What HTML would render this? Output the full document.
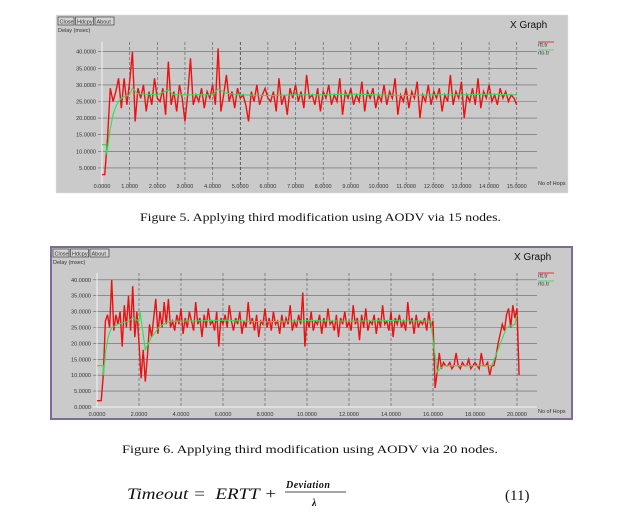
<!DOCTYPE html>
<html><head><meta charset="utf-8"><style>
html,body{margin:0;padding:0;background:#fff;width:627px;height:519px;overflow:hidden}
svg{display:block}
.t{font-family:"Liberation Sans",sans-serif;font-size:5.5px;fill:#333}
.cap{font-family:"Liberation Serif",serif;font-size:12px;fill:#111}
.btn{fill:#d4d4d4;stroke:#444;stroke-width:0.7}
</style></head><body>
<svg id="page" width="627" height="519" viewBox="0 0 627 519">
<g id="g1"></g>
<g id="g2"></g>
<text class="cap" x="140" y="221" textLength="361" lengthAdjust="spacingAndGlyphs">Figure  5.  Applying third modification using AODV via 15 nodes.</text>
<text class="cap" x="122" y="453" textLength="376" lengthAdjust="spacingAndGlyphs">Figure 6.  Applying third modification using AODV via 20 nodes.</text>
<g font-family="Liberation Serif, serif" fill="#111">
<text x="127" y="499" font-size="16" font-style="italic" textLength="150" lengthAdjust="spacingAndGlyphs">Timeout = &#160;ERTT +</text>
<text x="286" y="488" font-size="10" font-style="italic" font-weight="bold" letter-spacing="0.5">Deviation</text>
<line x1="285" y1="492" x2="346" y2="492" stroke="#111" stroke-width="0.8"/>
<text x="312" y="506" font-size="10" font-style="italic" font-weight="bold">λ</text>
<text x="505" y="500" font-size="15">(11)</text>
</g>
</svg>
<script>
// ---- Chart 1 data (15 nodes) ----
const rtt1 = [3,3,14,29,25,28,32,23,32,24,31,40,19,29,26,30,22,28,24,32,26,
25,29,21,37,24,28,22,30,26,19,27,38,24,27,25,29,23,28,26,30,
24,41,22,27,33,25,28,23,29,26,27,24,19,28,25,30,24,27,29,26,
25,28,22,32,24,27,21,29,26,30,25,28,23,33,26,27,24,29,22,28,
26,30,24,27,25,32,21,28,26,29,24,27,25,31,22,28,26,29,23,27,
25,30,24,28,26,32,21,27,25,29,23,28,26,31,20,27,25,30,24,28,
26,29,22,27,25,33,24,28,26,31,20,27,25,29,24,32,23,28,26,30,
25,27,24,29,26,28,25,27,26,24];
const rto1X = [0,0.15,0.17,0.3,0.4,0.5,0.6,0.7,0.8,1.0,1.1,1.3,2.0,2.4,2.6,3.0,4.0,4.2,4.5,5.0,6,7,8,9,10,11,12,13,14,15];
const rto1Y = [12,12,9,17,21,23.5,25,26,26.5,27,29,27.3,27,28.5,27,27,27,28.8,27.5,27,26.8,27,27,27.2,27,26.8,27,27,27.2,27];
const xTicks1 = ["0.0000","1.0000","2.0000","3.0000","4.0000","5.0000","6.0000","7.0000","8.0000","9.0000","10.0000","11.0000","12.0000","13.0000","14.0000","15.0000"];
const xTickVals1 = [0,1,2,3,4,5,6,7,8,9,10,11,12,13,14,15];
const yTicks1 = ["5.0000","10.0000","15.0000","20.0000","25.0000","30.0000","35.0000","40.0000"];
const yTickVals1 = [5,10,15,20,25,30,35,40];

// ---- Chart 2 data (20 nodes) ----
const rtt2 = [2,2,2,10,27,29,25,40,24,29,26,30,19,32,25,35,24,38,22,30,20,9,18,8,16,26,22,28,34,23,30,25,33,26,34,25,
27,24,29,26,31,23,28,25,30,27,24,33,26,28,22,29,25,31,26,27,24,30,19,28,
26,29,25,32,27,24,28,26,30,23,27,25,33,26,28,24,29,22,27,26,31,25,28,24,
30,26,27,23,29,25,28,26,32,24,27,25,29,26,36,19,28,25,30,24,27,26,29,23,
28,25,31,26,27,24,29,22,28,26,30,25,27,24,32,26,28,21,29,25,31,24,27,26,
29,23,28,25,32,26,27,24,30,22,28,26,29,25,27,24,33,26,28,23,29,25,27,26,
28,24,30,25,27,
6,11,17,12,14,13,13,14,12,13,17,13,12,14,13,13,15,12,13,14,13,12,17,13,13,14,10,13,13,
16,20,23,26,24,29,31,25,32,28,31,10];
const rto2X = [0,0.3,0.31,0.4,0.5,0.6,0.7,1.0,1.5,1.7,2.0,2.05,2.3,2.6,3.0,3.5,4,6,8,10,12,14,15.9,16.0,16.2,16.5,18.8,19.5,19.9,20.0];
const rto2Y = [13,13,10,17,21,23.5,25,26,27,28,27,30,18,22,25.5,27,27,27.3,26.8,27.2,27,27.2,27,21,11,13,13,25,26,29];
const xTicks2 = ["0.0000","2.0000","4.0000","6.0000","8.0000","10.0000","12.0000","14.0000","16.0000","18.0000","20.0000"];
const xTickVals2 = [0,2,4,6,8,10,12,14,16,18,20];
const yTicks2 = ["0.0000","5.0000","10.0000","15.0000","20.0000","25.0000","30.0000","35.0000","40.0000"];
const yTickVals2 = [0,5,10,15,20,25,30,35,40];

const NS = "http://www.w3.org/2000/svg";
function mk(parent, tag, attrs){const e=document.createElementNS(NS,tag);for(const k in attrs)e.setAttribute(k,attrs[k]);parent.appendChild(e);return e;}

function drawChart(g, c){
  const sx = v => c.x0 + v * c.px;
  const sy = v => c.y0 - v * c.py;
  const panel = mk(g,'rect',{x:c.left,y:c.top,width:c.w,height:c.h,fill:'#cacaca',stroke:c.border,'stroke-width':c.bw});
  
  
  const bl=[["Close",16],["Hdcpy",18],["About",19]];
  let bx=c.left+2;
  bl.forEach(b=>{
    const bg=mk(g,'g',{});
    
    
    mk(bg,'rect',{x:bx,y:c.top+2,width:b[1],height:8,class:'btn'});
    const t=mk(bg,'text',{x:bx+1.5,y:c.top+8.3,class:'t','font-size':'5'});t.textContent=b[0];
    bx+=b[1]+1.5;
  });
  const yl=mk(g,'text',{x:c.left+2,y:c.top+17,class:'t'});yl.textContent='Delay (msec)';
  
  
  const tt=mk(g,'text',{x:c.left+c.w-58,y:c.top+13,'font-family':'Liberation Sans, sans-serif','font-size':'10',fill:'#111'});tt.textContent='X Graph';
  
  
  c.yVals.forEach((v,i)=>{
    const ln=mk(g,'line',{x1:c.x0-4,x2:c.gridR,y1:sy(v),y2:sy(v),stroke:v===0?'#f4f4f4':'#666','stroke-width':v===0?1:0.6});
    
    
    const t=mk(g,'text',{x:c.x0-6,y:sy(v)+2,class:'t','text-anchor':'end'});t.textContent=c.yLabels[i];
    
    
  });
  c.xVals.forEach((v,i)=>{
    const isAx=v===0;
    const ln=mk(g,'line',{x1:sx(v),x2:sx(v),y1:c.gridT,y2:c.y0,stroke:isAx?'#f4f4f4':(c.blackX===v?'#111':'#555'),'stroke-width':isAx?1:0.6,'stroke-dasharray':isAx?'':'3,2'});
    
    
    const t=mk(g,'text',{x:sx(v),y:c.labY,class:'t','text-anchor':'middle'});t.textContent=c.xLabels[i];
    
    
  });
  const xt=mk(g,'text',{x:c.gridR+1,y:c.labY-3,class:'t'});xt.textContent='No of Hops';
  
  
  const rp=c.rtt.map((v,i)=>sx(i*0.1).toFixed(2)+','+sy(v).toFixed(2)).join(' ');
  const r=mk(g,'polyline',{points:rp,fill:'none',stroke:'#ee1010','stroke-width':1.4});
  
  
  const gp=c.rtoX.map((x,i)=>sx(x).toFixed(2)+','+sy(c.rtoY[i]).toFixed(2)).join(' ');
  const gl=mk(g,'polyline',{points:gp,fill:'none',stroke:'#33dd55','stroke-width':1.1});
  
  
  [['rtt.tr','#ee1010',0],['rto.tr','#33dd55',1]].forEach(l=>{
    const lg=mk(g,'g',{});
    
    
    const yy=c.top+c.legY+l[2]*8;
    mk(lg,'line',{x1:c.gridR+1,x2:c.gridR+17,y1:yy,y2:yy,stroke:l[1],'stroke-width':0.8});
    const t=mk(lg,'text',{x:c.gridR+1,y:yy+4.5,class:'t','font-size':'5'});t.textContent=l[0];
  });
}

drawChart(document.getElementById('g1'),{left:56,top:15,w:512,h:178,border:'#e0e0e0',bw:0.5,
  x0:102,px:27.65,y0:184.5,py:3.32,gridR:537,gridT:42,labY:188,legY:27,blackX:5,
  rtt:rtt1,rtoX:rto1X,rtoY:rto1Y,xVals:xTickVals1,xLabels:xTicks1,yVals:yTickVals1,yLabels:yTicks1});
drawChart(document.getElementById('g2'),{left:51,top:247,w:521,h:172,border:'#7a6e98',bw:2,
  x0:97,px:21,y0:407,py:3.18,gridR:537,gridT:273,labY:416,legY:26,blackX:-1,
  rtt:rtt2,rtoX:rto2X,rtoY:rto2Y,xVals:xTickVals2,xLabels:xTicks2,yVals:yTickVals2,yLabels:yTicks2});
</script>
</body></html>
